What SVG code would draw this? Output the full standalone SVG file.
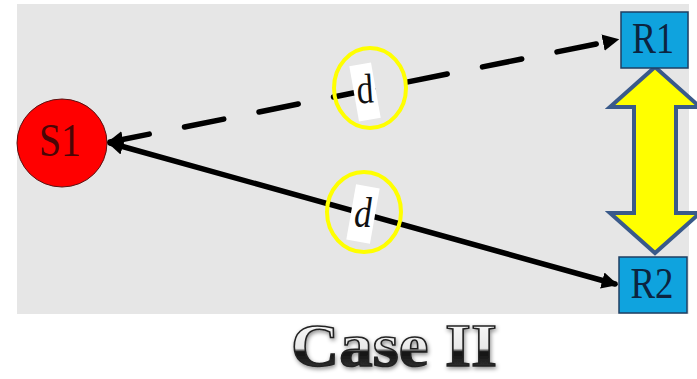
<svg xmlns="http://www.w3.org/2000/svg" width="697" height="379" viewBox="0 0 697 379">
<style>
.node-text{font-family:"Liberation Serif",Tinos,"Noto Serif",FreeSerif,"Times New Roman","DejaVu Serif",serif;}
.conn{stroke:#000;stroke-width:5.5;fill:none;stroke-linecap:round;}
.ring{fill:none;stroke:#FFFF00;stroke-width:4;}
.lbl{fill:#fff;}
.box{fill:#0FA3DE;stroke:#1F3F63;stroke-width:1.5;}
</style>
<defs>
<marker id="ah" viewBox="0 0 10 10" refX="8" refY="5" markerWidth="3" markerHeight="3" orient="auto-start-reverse" markerUnits="strokeWidth">
<path d="M0,0 L10,5 L0,10 z" fill="#000"/>
</marker>
<linearGradient id="cg" x1="0" y1="0" x2="0" y2="1">
<stop offset="0" stop-color="#ffffff"/>
<stop offset="0.55" stop-color="#e8e8e8"/>
<stop offset="0.6" stop-color="#111"/>
<stop offset="0.85" stop-color="#333"/>
<stop offset="1" stop-color="#bbb"/>
</linearGradient>
<filter id="sh" x="-10%" y="-20%" width="120%" height="140%">
<feDropShadow dx="1" dy="2" stdDeviation="2" flood-color="#000" flood-opacity="0.45"/>
</filter>
</defs>
<rect x="17" y="4" width="672" height="310" fill="#E6E6E6"/>

<g id="connectors">
<line class="conn" x1="110" y1="142" x2="616" y2="40" stroke-dasharray="40 36" marker-start="url(#ah)" marker-end="url(#ah)"/>
<line class="conn" x1="110" y1="143" x2="615" y2="284" marker-start="url(#ah)" marker-end="url(#ah)"/>
<polygon id="double-arrow" points="655,67 700,107 676,107 676,213 700,213 655,253 610,213 634,213 634,107 610,107" fill="#FFFF00" stroke="#3A5A8A" stroke-width="4" stroke-linejoin="miter"/>
</g>

<g id="label-d1">
<rect class="lbl" x="-11" y="-28" width="22" height="56" transform="translate(365,92) rotate(-10)"/>
<text class="node-text" x="0" y="11" text-anchor="middle" font-size="42" fill="#111" transform="translate(365,92) rotate(-4) scale(0.8,1)">d</text>
<ellipse class="ring" cx="370" cy="88" rx="36" ry="40"/>
</g>
<g id="label-d2">
<rect class="lbl" x="-12" y="-28" width="24" height="56" transform="translate(363,214) rotate(10)"/>
<text class="node-text" x="0" y="13" text-anchor="middle" font-size="42" font-style="italic" fill="#111" transform="translate(363,214) scale(0.85,1)">d</text>
<ellipse class="ring" cx="364" cy="212" rx="37" ry="40"/>
</g>

<g id="S1">
<ellipse cx="62" cy="143" rx="45" ry="44" fill="#FF0000" stroke="#5a1010" stroke-width="1"/>
<text class="node-text" x="60" y="156" text-anchor="middle" font-size="46" fill="#4a0606" textLength="42" lengthAdjust="spacingAndGlyphs">S1</text>
</g>
<g id="R1">
<rect class="box" x="621" y="12" width="67" height="56"/>
<text class="node-text" x="653" y="53" text-anchor="middle" font-size="44" fill="#0c2440" textLength="42" lengthAdjust="spacingAndGlyphs">R1</text>
</g>
<g id="R2">
<rect class="box" x="619" y="257" width="68" height="56"/>
<text class="node-text" x="652" y="298" text-anchor="middle" font-size="44" fill="#0c2440" textLength="43" lengthAdjust="spacingAndGlyphs">R2</text>
</g>

<text id="caption" class="node-text" x="394" y="366" text-anchor="middle" font-weight="bold" font-size="62" fill="url(#cg)" stroke="#222" stroke-width="1.5" filter="url(#sh)" textLength="206" lengthAdjust="spacingAndGlyphs">Case II</text>
</svg>
